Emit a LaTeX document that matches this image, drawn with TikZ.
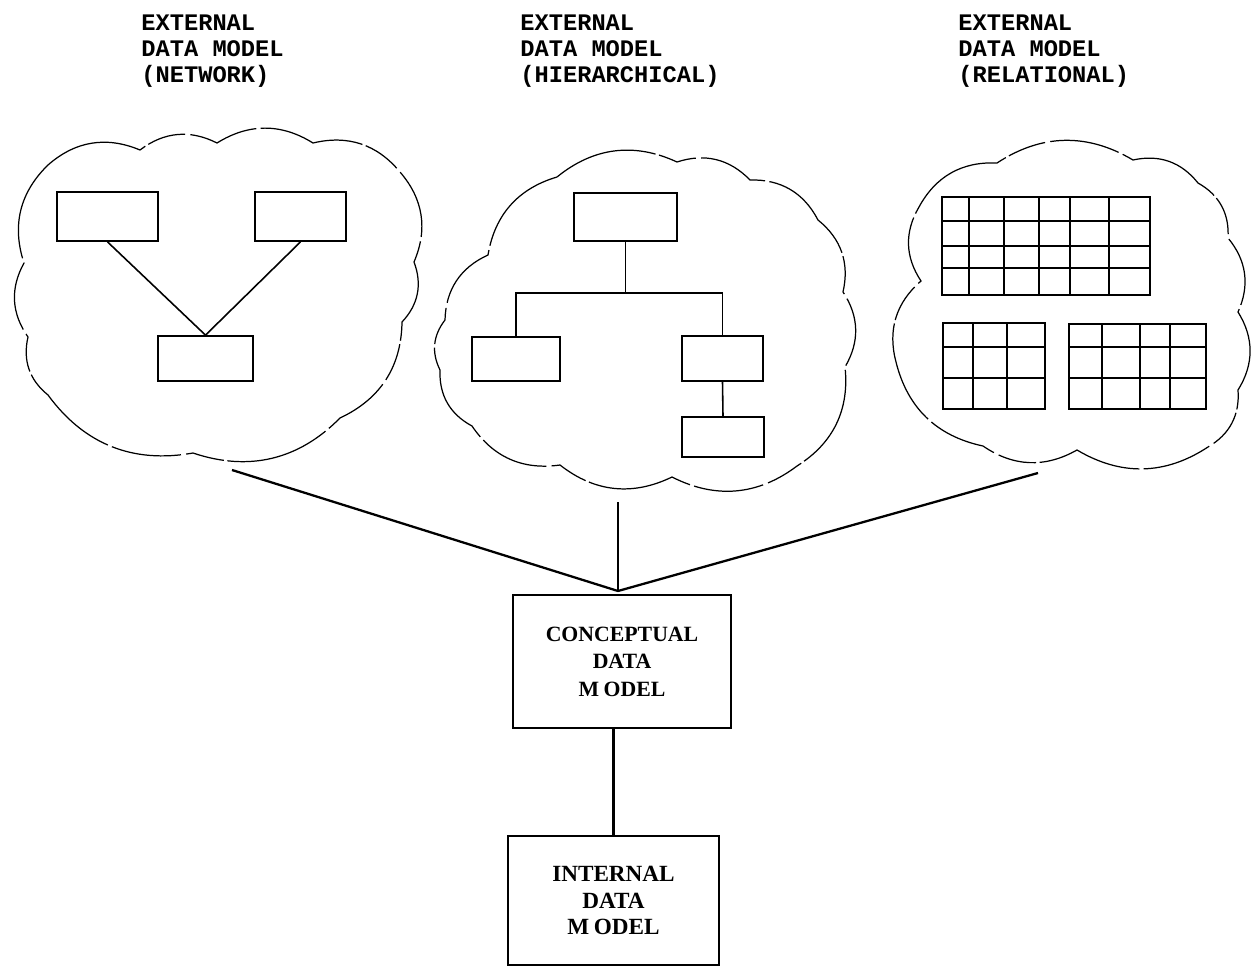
\documentclass[tikz,border=0pt]{standalone}
\usepackage{fontspec}
\setmainfont{Liberation Serif}
\newfontfamily\typew{Liberation Mono}

\begin{document}
\begin{tikzpicture}[x=0.02cm, y=-0.02cm,
      title/.style={font=\typew\bfseries\fontsize{13.5}{14.7}\selectfont,
                    align=left, anchor=north west, inner sep=0pt},
      puff/.style={bend left=32, line width=0.7pt,
                   dash pattern=on 60pt off 2pt on 22pt off 3pt on 40pt off 2.5pt},
      rec/.style={draw, line width=1pt, inner sep=0pt},
      link/.style={line width=0.9pt},
      tie/.style={line width=1.3pt},
      model/.style={draw, line width=1.1pt, align=center, inner sep=0pt} ]

    \useasboundingbox (0,0) rectangle (1254,970);

    % headings
    \node[title] (tnet)  at (141,15) {EXTERNAL\\DATA MODEL\\(NETWORK)};
    \node[title] (thier) at (520,15) {EXTERNAL\\DATA MODEL\\(HIERARCHICAL)};
    \node[title] (trel)  at (958,15) {EXTERNAL\\DATA MODEL\\(RELATIONAL)};

    % clouds
    \draw[puff] (48,165) to (140,150) to (217,143) to (313,143) to (400,172)
      to (414,262) to (402,322) to (340,418) to (193,453) to (48,395)
      to (28,337) to (24,263) to (48,165);
    \draw[puff] (557,177) to (677,162) to (750,180) to (818,220) to (843,292)
      to (845,367) to (797,466) to (672,477) to (560,465) to (472,426)
      to (440,370) to (445,320) to (488,255) to (557,177);
    \draw[puff] (919,207) to (997,163) to (1133,160) to (1198,183) to (1228,238)
      to (1238,312) to (1238,390) to (1208,447) to (1077,450) to (983,446)
      to (896,362) to (921,281) to (919,207);

    % network
    \node[rec, minimum width=2.02cm, minimum height=0.98cm] (nb1) at (107.5,216.5) {};
    \node[rec, minimum width=1.82cm, minimum height=0.98cm] (nb2) at (300.5,216.5) {};
    \node[rec, minimum width=1.9cm,  minimum height=0.9cm]  (nb3) at (205.5,358.5) {};
    \draw[link] (nb1.south) -- (nb3.north) -- (nb2.south);

    % hierarchical
    \node[rec, minimum width=2.06cm, minimum height=0.96cm] (hroot)  at (625.5,217) {};
    \node[rec, minimum width=1.76cm, minimum height=0.88cm] (hleft)  at (516,359) {};
    \node[rec, minimum width=1.62cm, minimum height=0.9cm]  (hright) at (722.5,358.5) {};
    \node[rec, minimum width=1.64cm, minimum height=0.8cm]  (hlow)   at (723,437) {};
    \draw[link] (hroot.south) -- ++(0,51) coordinate (hbus) -| (hleft.north);
    \draw[link] (hbus) -| (hright.north);
    \draw[link] (hright.south) -- (hlow.north);

    % relational
    \node[rec, anchor=north west, minimum width=4.16cm, minimum height=1.96cm] (rbig) at (941,196) {};
    \node[rec, anchor=north west, minimum width=2.04cm, minimum height=1.72cm] (rsml) at (942,322) {};
    \node[rec, anchor=north west, minimum width=2.74cm, minimum height=1.7cm]  (rsmr) at (1068,323) {};
    \foreach \y in {221,246,268} \draw[rec] (941,\y) -- (1149,\y);
    \foreach \x in {969,1004,1039,1070,1109} \draw[rec] (\x,196) -- (\x,294);
    \foreach \y in {347,378} {
      \draw[rec] (942,\y) -- (1044,\y);
      \draw[rec] (1068,\y) -- (1205,\y);
    }
    \foreach \x in {973,1007} \draw[rec] (\x,322) -- (\x,408);
    \foreach \x in {1102,1140,1170} \draw[rec] (\x,323) -- (\x,408);

    % conceptual and internal
    \node[model, minimum width=4.36cm, minimum height=2.66cm,
          font=\bfseries\fontsize{12.4}{15.6}\selectfont] (cdm) at (622,661.5)
      {CONCEPTUAL\\DATA\\M\hspace{0.2em}ODEL};
    \node[model, minimum width=4.22cm, minimum height=2.58cm,
          font=\bfseries\fontsize{13.2}{15.3}\selectfont] (idm) at (613.5,900.5)
      {INTERNAL\\DATA\\M\hspace{0.2em}ODEL};

    \coordinate (jn)    at (618,591);
    \coordinate (snet)  at (232,470);
    \coordinate (shier) at (618,502);
    \coordinate (srel)  at (1038,473);
    \draw[tie] (snet) -- (jn);
    \draw[tie] (shier) -- (jn);
    \draw[tie] (srel) -- (jn);
    \draw[tie] (idm.north) -- (idm.north |- cdm.south);
  \end{tikzpicture}
\end{document}
